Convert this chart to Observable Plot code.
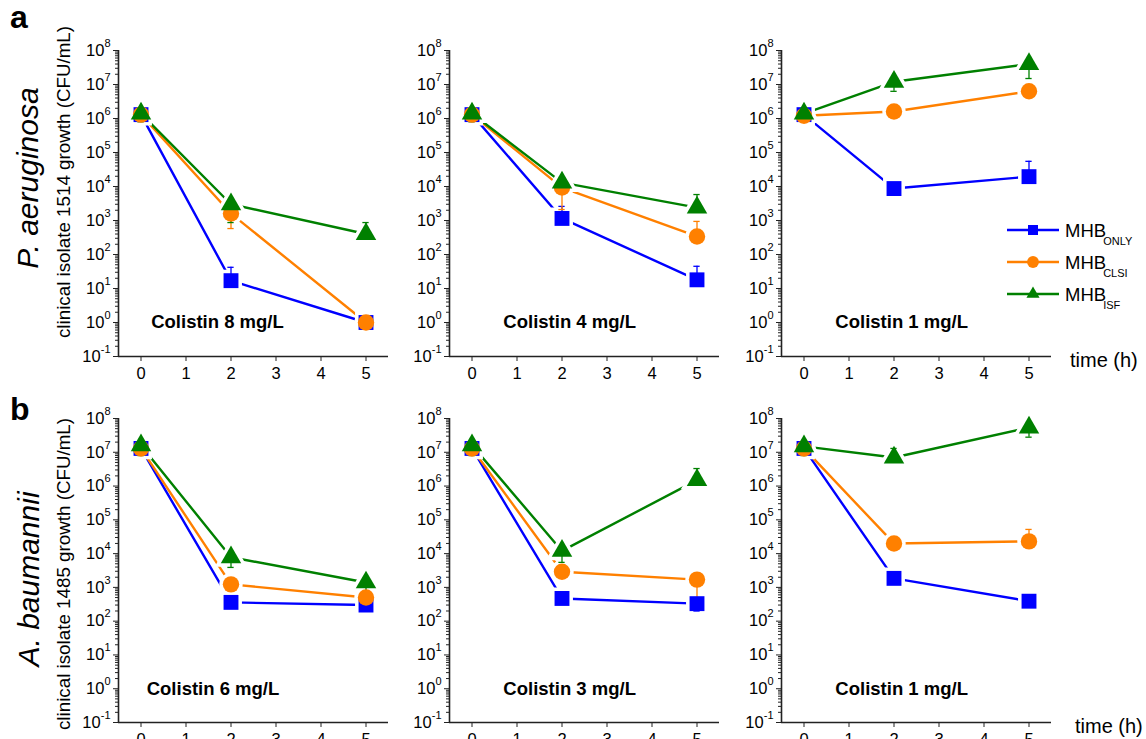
<!DOCTYPE html>
<html><head><meta charset="utf-8">
<script src="https://cdn.jsdelivr.net/npm/d3@7"></script>
<script src="https://cdn.jsdelivr.net/npm/@observablehq/plot@0.6"></script>
<style>
html,body{margin:0;padding:0;background:#fff;overflow:hidden;}
body{width:1146px;height:739px;position:relative;font-family:"Liberation Sans",Arial,sans-serif;}
.panel{position:absolute;}
#overlay{position:absolute;left:0;top:0;z-index:10;pointer-events:none;}
</style></head><body>
<script>
// ---------- data ----------
const times = [0, 2, 5];
const seriesNames = ["ONLY", "CLSI", "ISF"];
const seriesColors = ["#0000ff", "#ff8000", "#008000"];
const seriesSymbols = ["square", "circle", "triangle"];
const rowLetters = ["a", "b"];
const speciesNames = ["P. aeruginosa", "A. baumannii"];
const yTitles = ["clinical isolate 1514 growth (CFU/mL)", "clinical isolate 1485 growth (CFU/mL)"];
const panelTitlesA = ["Colistin 8 mg/L", "Colistin 4 mg/L", "Colistin 1 mg/L"];
const panelTitlesB = ["Colistin 6 mg/L", "Colistin 3 mg/L", "Colistin 1 mg/L"];

// row a (P. aeruginosa), per panel: values at t = 0, 2, 5 h
const onlyA = [[1.3e6, 17, 1], [1.3e6, 1150, 18], [1.3e6, 8700, 19500]];
const clsiA = [[1.3e6, 1600, 1], [1.3e6, 9300, 340], [1.2e6, 1.6e6, 6.3e6]];
const isfA  = [[1.4e6, 3000, 400], [1.4e6, 13000, 2400], [1.4e6, 1.2e7, 4.0e7]];
// row b (A. baumannii)
const onlyB = [[1.3e7, 360, 300], [1.3e7, 470, 330], [1.3e7, 1850, 390]];
const clsiB = [[1.3e7, 1230, 500], [1.3e7, 2900, 1700], [1.3e7, 20000, 23000]];
const isfB  = [[1.6e7, 7800, 1400], [1.6e7, 12000, 1.5e6], [1.5e7, 7.0e6, 5.4e7]];

// error bar tips (null = none visible)
const onlyAErr = [[null, 42, null], [null, 2600, 45], [null, null, 55000]];
const clsiAErr = [[null, 580, null], [null, 2100, 940], [null, null, null]];
const isfAErr  = [[8e5, 870, 870], [8e5, null, 5800], [8e5, 6.3e6, 1.5e7]];
const onlyBErr = [[null, null, null], [null, null, 200], [null, null, null]];
const clsiBErr = [[null, null, null], [null, null, 500], [null, null, 52000]];
const isfBErr  = [[8e6, 3900, 700], [8e6, 5500, 3.3e6], [8e6, 1.3e7, 2.8e7]];

const majorTicks = [0.1, 1, 10, 1e2, 1e3, 1e4, 1e5, 1e6, 1e7, 1e8];
const minorTicks = majorTicks.slice(0, -1).flatMap(p => [2,3,4,5,6,7,8,9].map(k => k * p));
const xTicks = [0, 1, 2, 3, 4, 5];

// ---------- layout ----------
const FONT = '"Liberation Sans", Arial, sans-serif';
const colLeft = [117.5, 449, 780.5];
const rowTop = [50, 418];
const rowH = [306, 304];
const innerW = 270;
const mL = 62, mR = 8, mT = 20, mB = 40;
const titleX = [[1.7, 2.17, 2.17], [1.6, 2.17, 2.17]];
const symR = {square: 8.4, circle: 8.2, triangle: 7.6};

function buildPanel(row, col) {
  const srcs = row === 0 ? [onlyA, clsiA, isfA] : [onlyB, clsiB, isfB];
  const errs = row === 0 ? [onlyAErr, clsiAErr, isfAErr] : [onlyBErr, clsiBErr, isfBErr];
  const title = (row === 0 ? panelTitlesA : panelTitlesB)[col];
  const series = srcs.map((src, s) => times.map((t, i) => ({t, v: src[col][i], err: errs[s][col][i]})));
  const marks = [];
  series.forEach((d, s) => marks.push(Plot.line(d, {x: "t", y: "v", stroke: seriesColors[s], strokeWidth: 2.4})));
  series.forEach((d, s) => marks.push(Plot.dot(d, {x: "t", y: "v", symbol: seriesSymbols[s], r: symR[seriesSymbols[s]], fill: "white", stroke: "white", strokeWidth: 7})));
  series.forEach((d, s) => {
    const e = d.filter(p => p.err != null);
    marks.push(Plot.ruleX(e, {x: "t", y1: "v", y2: "err", stroke: seriesColors[s], strokeWidth: 1.3}));
    marks.push(Plot.ruleY(e, {y: "err", x1: p => p.t - 0.07, x2: p => p.t + 0.07, stroke: seriesColors[s], strokeWidth: 1.3}));
  });
  series.forEach((d, s) => marks.push(Plot.dot(d, {x: "t", y: "v", symbol: seriesSymbols[s], r: symR[seriesSymbols[s]], fill: seriesColors[s], stroke: "none"})));
  marks.push(Plot.axisY(minorTicks, {tickSize: 3, tickFormat: () => "", stroke: "#222", label: null}));
  marks.push(Plot.axisY(majorTicks, {tickSize: 5, tickPadding: 3, stroke: "#222", fill: "#000", fontSize: 16.5, label: null,
    tickFormat: d => "10^" + Math.round(Math.log10(d))}));
  marks.push(Plot.axisX(xTicks, {tickSize: 5, tickPadding: 6, stroke: "#222", fill: "#000", fontSize: 16.5, label: null, tickFormat: d => String(d)}));
  marks.push(Plot.ruleX([-0.5], {stroke: "#222", strokeWidth: 1.6}));
  marks.push(Plot.ruleY([0.1], {stroke: "#222", strokeWidth: 1.6}));
  marks.push(Plot.text([title], {x: titleX[row][col], y: 1, text: d => d, fontWeight: "bold", fontSize: 18.5, fill: "#000"}));

  const plot = Plot.plot({
    width: mL + innerW + mR, height: mT + rowH[row] + mB,
    marginLeft: mL, marginRight: mR, marginTop: mT, marginBottom: mB,
    x: {domain: [-0.5, 5.5]},
    y: {type: "log", domain: [0.1, 1e8]},
    style: {fontFamily: FONT, fontSize: "16px", color: "#000", background: "transparent"},
    marks
  });
  plot.querySelectorAll("text").forEach(t => {
    const s = t.textContent;
    if (s.startsWith("10^")) {
      const exp = s.slice(3);
      while (t.firstChild) t.removeChild(t.firstChild);
      const ns = "http://www.w3.org/2000/svg";
      const a = document.createElementNS(ns, "tspan"); a.textContent = "10";
      const b = document.createElementNS(ns, "tspan"); b.textContent = exp;
      b.setAttribute("font-size", "11"); b.setAttribute("dy", "-9");
      t.appendChild(a); t.appendChild(b);
    }
  });
  const div = document.createElement("div");
  div.className = "panel";
  div.style.left = (colLeft[col] - mL) + "px";
  div.style.top = (rowTop[row] - mT) + "px";
  div.style.width = (mL + innerW + mR) + "px";
  div.appendChild(plot);
  document.body.appendChild(div);
}
for (let r = 0; r < 2; r++) for (let c = 0; c < 3; c++) buildPanel(r, c);

// ---------- overlay text, legend ----------
const svg = d3.select("body").append("svg").attr("id", "overlay").attr("width", 1146).attr("height", 739)
  .style("font-family", FONT);
const letterY = [28, 420];
const speciesC = [[38, 178], [39, 579]];
const yTitleC = [[70, 182], [70, 574]];
rowLetters.forEach((l, i) => svg.append("text").attr("x", 10).attr("y", letterY[i]).attr("font-size", 32).attr("font-weight", "bold").text(l));
speciesNames.forEach((s, i) => svg.append("text").attr("transform", `translate(${speciesC[i][0]},${speciesC[i][1]}) rotate(-90)`)
  .attr("text-anchor", "middle").attr("font-size", 30).attr("font-style", "italic").text(s));
yTitles.forEach((s, i) => svg.append("text").attr("transform", `translate(${yTitleC[i][0]},${yTitleC[i][1]}) rotate(-90)`)
  .attr("text-anchor", "middle").attr("font-size", 18.8).text(s));
const timeXY = [[1070, 367], [1075, 733]];
timeXY.forEach(([x, y]) => svg.append("text").attr("x", x).attr("y", y).attr("font-size", 20).text("time (h)"));

const legY = [230, 262, 294];
seriesNames.forEach((n, i) => {
  const y = legY[i];
  svg.append("line").attr("x1", 1007).attr("x2", 1059).attr("y1", y).attr("y2", y).attr("stroke", seriesColors[i]).attr("stroke-width", 2.5);
  const sym = {square: d3.symbolSquare, circle: d3.symbolCircle, triangle: d3.symbolTriangle}[seriesSymbols[i]];
  const size = {square: 100, circle: 110, triangle: 75}[seriesSymbols[i]];
  svg.append("path").attr("transform", `translate(1033,${y})`).attr("d", d3.symbol(sym, size)()).attr("fill", seriesColors[i]);
  const t = svg.append("text").attr("x", 1065).attr("y", y + 6.5).attr("font-size", 18.5);
  t.append("tspan").text("MHB");
  t.append("tspan").attr("font-size", 11).attr("dx", -3).attr("dy", 8.5).text(n);
});
</script>
</body></html>
